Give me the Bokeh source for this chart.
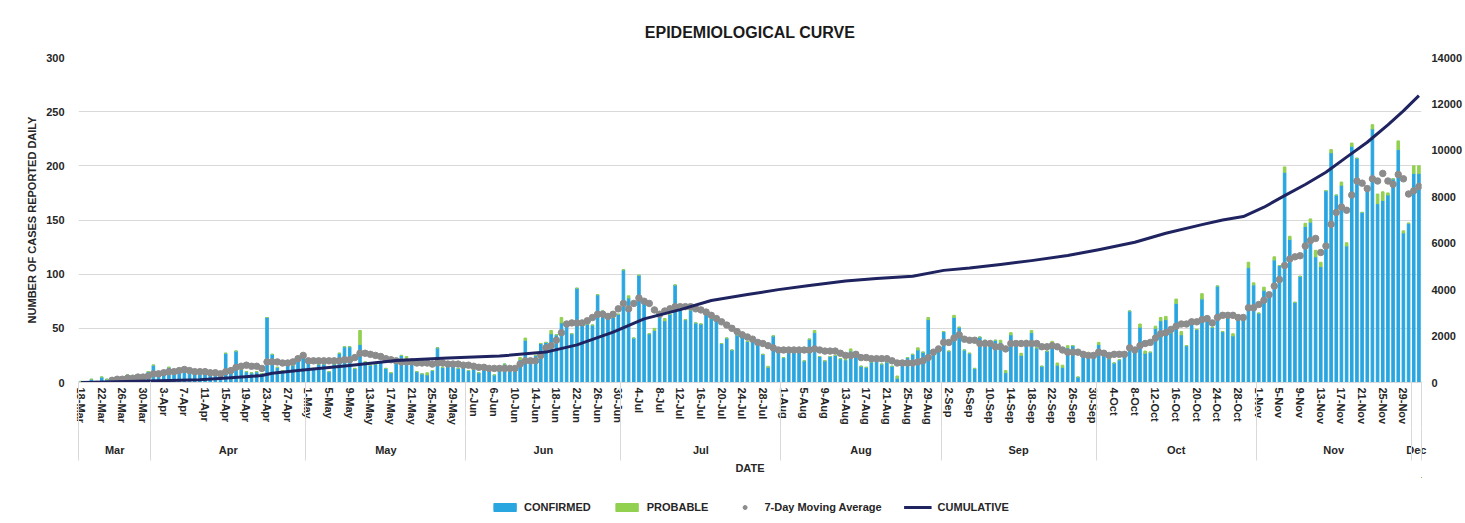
import numpy as np
from bokeh.plotting import figure
from bokeh.layouts import column
from bokeh.models import (Range1d, LinearAxis, FixedTicker, SingleIntervalTicker,
                          Legend, LegendItem, ColumnDataSource)
from bokeh.embed import file_html
from bokeh.resources import INLINE

# ---------------- data ----------------
TITLE = "EPIDEMIOLOGICAL CURVE"
TICK_LABELS = [
    "18-Mar", "22-Mar", "26-Mar", "30-Mar",
    "3-Apr", "7-Apr", "11-Apr", "15-Apr", "19-Apr", "23-Apr", "27-Apr",
    "1-May", "5-May", "9-May", "13-May", "17-May", "21-May", "25-May", "29-May",
    "2-Jun", "6-Jun", "10-Jun", "14-Jun", "18-Jun", "22-Jun", "26-Jun", "30-Jun",
    "4-Jul", "8-Jul", "12-Jul", "16-Jul", "20-Jul", "24-Jul", "28-Jul",
    "1-Aug", "5-Aug", "9-Aug", "13-Aug", "17-Aug", "21-Aug", "25-Aug", "29-Aug",
    "2-Sep", "6-Sep", "10-Sep", "14-Sep", "18-Sep", "22-Sep", "26-Sep", "30-Sep",
    "4-Oct", "8-Oct", "12-Oct", "16-Oct", "20-Oct", "24-Oct", "28-Oct",
    "1-Nov", "5-Nov", "9-Nov", "13-Nov", "17-Nov", "21-Nov", "25-Nov", "29-Nov",
]
MONTHS = ["Mar", "Apr", "May", "Jun", "Jul", "Aug", "Sep", "Oct", "Nov", "Dec"]
MONTH_DAY_COUNTS = [14, 30, 31, 30, 31, 31, 30, 31, 30, 2]
SERIES_NAMES = ["CONFIRMED", "PROBABLE", "7-Day Moving Average", "CUMULATIVE"]

# daily confirmed cases, 18-Mar .. 2-Dec
CONFIRMED = [
    1, 0, 3, 1, 5, 3, 2, 4, 3, 7, 4, 5, 6, 10, 16, 8, 9, 14, 10, 12, 11, 9, 12, 8, 10, 7, 9, 8, 27, 10, 29, 12, 10, 9, 10, 8, 60, 26,
    14, 11, 17, 16, 21, 27, 19, 13, 17, 17, 10, 17, 27, 33, 33, 13, 35, 19, 16, 17, 19, 13, 9, 18, 25, 22, 17, 10, 8, 7, 11, 32, 14, 17, 16, 13, 14, 11,
    12, 9, 12, 11, 7, 12, 17, 12, 12, 21, 39, 20, 25, 36, 37, 45, 44, 55, 53, 45, 87, 56, 54, 53, 81, 66, 61, 60, 63, 104, 78, 41, 99, 73, 45, 48, 64,
    57, 63, 90, 70, 58, 67, 55, 54, 65, 59, 59, 36, 41, 30, 44, 43, 38, 41, 36, 26, 14, 43, 32, 23, 31, 28, 28, 20, 40, 46, 24, 20, 24, 25, 22, 21, 29, 26,
    15, 14, 19, 23, 17, 19, 15, 4, 17, 23, 26, 30, 28, 58, 28, 31, 47, 29, 60, 51, 30, 27, 13, 42, 39, 36, 39, 37, 9, 44, 36, 25, 37, 46, 32, 15, 29, 36,
    16, 14, 32, 34, 5, 28, 25, 25, 35, 28, 22, 18, 21, 26, 66, 30, 51, 27, 28, 50, 57, 58, 46, 73, 44, 34, 57, 49, 77, 58, 51, 89, 47, 60, 43, 60, 62, 106,
    90, 64, 85, 83, 113, 108, 194, 132, 74, 98, 144, 148, 116, 107, 177, 212, 173, 182, 126, 218, 207, 157, 180, 234, 165, 168, 173, 188, 215, 138, 147, 193, 193,
]
# daily probable cases (stacked on top of confirmed)
PROBABLE = [
    0, 0, 0, 0, 0, 0, 0, 0, 0, 0, 0, 0, 0, 0, 0, 0, 0, 0, 0, 0, 0, 0, 0, 0, 0, 0, 0, 0, 0, 0, 0, 0, 0, 0, 0, 0, 0, 0,
    0, 0, 0, 0, 0, 0, 0, 0, 0, 0, 0, 0, 0, 0, 0, 0, 13, 0, 0, 0, 0, 0, 0, 2, 0, 2, 0, 0, 0, 2, 0, 0, 0, 0, 0, 0, 0, 0,
    0, 0, 0, 0, 0, 0, 0, 0, 0, 2, 2, 0, 0, 0, 0, 3, 0, 5, 0, 0, 0, 0, 0, 0, 0, 0, 0, 0, 0, 0, 2, 0, 0, 0, 0, 2, 0,
    2, 0, 0, 2, 0, 0, 0, 0, 0, 0, 0, 0, 0, 0, 0, 0, 0, 0, 0, 0, 1, 0, 0, 0, 0, 0, 0, 0, 0, 2, 0, 0, 0, 0, 0, 0, 2, 2,
    0, 0, 0, 0, 0, 0, 0, 2, 0, 0, 0, 2, 0, 2, 0, 0, 0, 0, 2, 0, 0, 0, 0, 0, 0, 0, 0, 2, 2, 2, 0, 2, 2, 2, 0, 0, 0, 2,
    2, 2, 2, 0, 0, 0, 0, 0, 2, 0, 0, 0, 0, 0, 0, 0, 3, 2, 0, 2, 3, 3, 0, 4, 3, 0, 0, 0, 5, 0, 0, 0, 0, 0, 2, 2, 0, 5,
    2, 0, 3, 0, 3, 0, 5, 3, 0, 0, 3, 3, 6, 4, 0, 3, 0, 3, 3, 3, 0, 0, 0, 4, 9, 8, 2, 0, 8, 2, 0, 7, 7,
]
# 7-day moving average (first six days have no value)
MOVING_AVG_7DAY = [
    None, None, None, None, None, None,
    2, 3, 3, 4, 4, 5, 5, 6, 8, 8, 9, 10, 10, 11, 12, 11, 10, 10, 10, 9, 9, 8, 10, 11, 14, 15, 16, 15, 15, 13, 19, 19,
    19, 18, 18, 19, 22, 25, 20, 20, 20, 20, 20, 20, 20, 21, 21, 23, 27, 27, 26, 25, 24, 22, 21, 20, 19, 19, 19, 18, 18, 18, 17, 18, 18, 17, 17, 17, 16, 16,
    15, 14, 14, 13, 13, 13, 13, 13, 13, 17, 20, 20, 20, 25, 32, 34, 39, 46, 54, 55, 55, 55, 57, 60, 63, 63, 61, 63, 68, 73, 68, 73, 78, 75, 73, 67, 63,
    66, 68, 70, 70, 70, 70, 68, 67, 65, 62, 59, 56, 53, 50, 47, 44, 42, 40, 37, 36, 34, 32, 30, 30, 30, 30, 30, 30, 30, 31, 30, 29, 29, 29, 27, 25, 25, 26,
    23, 23, 22, 22, 22, 22, 20, 18, 18, 18, 18, 19, 20, 23, 28, 31, 37, 37, 41, 44, 40, 39, 39, 36, 36, 36, 33, 33, 31, 36, 36, 36, 36, 36, 36, 33, 33, 34,
    33, 30, 28, 28, 28, 26, 25, 25, 28, 27, 25, 26, 26, 26, 32, 30, 34, 36, 37, 41, 45, 46, 49, 52, 54, 54, 56, 56, 58, 59, 55, 60, 62, 62, 62, 60, 60, 69,
    69, 72, 76, 81, 89, 95, 108, 114, 116, 117, 126, 131, 133, 120, 126, 146, 157, 162, 159, 173, 186, 184, 179, 188, 186, 193, 186, 183, 192, 188, 174, 177, 181,
]
# cumulative cases, read at these day indices (right axis)
CUM_DAYS = [0, 13, 23, 29, 35, 37, 42, 52, 61, 71, 81, 90, 96, 103, 109, 116, 122, 129, 135, 141,
            148, 154, 161, 167, 172, 178, 184, 191, 197, 204, 210, 217, 221, 225, 229, 233, 237,
            241, 245, 249, 253, 256, 259]
CUMULATIVE = [0, 60, 115, 200, 300, 400, 520, 730, 950, 1060, 1140, 1310, 1620, 2170, 2740, 3140, 3530, 3790, 4000, 4180,
              4370, 4480, 4580, 4830, 4930, 5080, 5250, 5470, 5720, 6040, 6430, 6800, 7000, 7150, 7550, 8050, 8530,
              9060, 9710, 10350, 11100, 11700, 12360]

assert len(CONFIRMED) == len(PROBABLE) == len(MOVING_AVG_7DAY) == sum(MONTH_DAY_COUNTS)

# ---------------- styling ----------------
BLUE = "#29A6E0"
GREEN = "#92D050"
GRAY = "#8C8C8C"
NAVY = "#1F2460"
TEXT = "#262626"
GRID = "#D9D9D9"
FONT = "Liberation Sans"
W = 1465

n_days = len(CONFIRMED)
day = np.arange(n_days)
src = ColumnDataSource(dict(day=day, confirmed=CONFIRMED, probable=PROBABLE))
ma_src = ColumnDataSource(dict(day=day, ma=np.array(MOVING_AVG_7DAY, dtype=float)))
cum_src = ColumnDataSource(dict(day=CUM_DAYS, cum=CUMULATIVE))

p = figure(width=W, height=477, output_backend="svg", toolbar_location=None, tools="",
           x_range=Range1d(-0.5, n_days - 0.5), y_range=Range1d(0, 300),
           x_axis_location=None, min_border_left=78, min_border_right=0,
           min_border_top=57, min_border_bottom=95)
p.extra_y_ranges = {"cum": Range1d(0, 14000)}
p.outline_line_color = None
p.background_fill_color = "white"
p.border_fill_color = "white"
p.xgrid.visible = False

p.title.text = TITLE
p.title.align = "center"
p.title.text_font = FONT
p.title.text_font_size = "16px"
p.title.text_font_style = "bold"
p.title.text_color = "#1a1a1a"
p.title.standoff = 34


def style_text(ax):
    ax.major_label_text_font = FONT
    ax.major_label_text_font_size = "11px"
    ax.major_label_text_font_style = "bold"
    ax.major_label_text_color = TEXT
    ax.axis_label_text_font = FONT
    ax.axis_label_text_font_size = "11px"
    ax.axis_label_text_font_style = "bold"
    ax.axis_label_text_color = TEXT


# left axis
yax = p.left[0]
yax.ticker = SingleIntervalTicker(interval=50, num_minor_ticks=0)
p.ygrid.ticker = yax.ticker
p.ygrid.grid_line_color = GRID
yax.axis_line_color = None
yax.major_tick_line_color = None
yax.minor_tick_line_color = None
yax.major_label_standoff = 8
yax.axis_label = "NUMBER OF CASES REPORTED DAILY"
yax.axis_label_standoff = 5
style_text(yax)

# right axis
rax = LinearAxis(y_range_name="cum", ticker=SingleIntervalTicker(interval=2000, num_minor_ticks=0))
rax.axis_line_color = None
rax.major_tick_line_color = None
rax.minor_tick_line_color = None
rax.major_label_standoff = 4
style_text(rax)
p.add_layout(rax, "right")

# bottom axes: day labels, month labels, and month separators (inward minor ticks)
edges = [float(e) for e in np.concatenate([[0], np.cumsum(MONTH_DAY_COUNTS)]) - 0.5]
centers = [(a + b) / 2 for a, b in zip(edges[:-1], edges[1:])]
tick_pos = [4 * i for i in range(len(TICK_LABELS))]

date_axis = LinearAxis(ticker=FixedTicker(ticks=tick_pos))
date_axis.major_label_overrides = {int(t): lab for t, lab in zip(tick_pos, TICK_LABELS)}
date_axis.major_label_orientation = "vertical"
date_axis.major_tick_in = 0
date_axis.major_tick_out = 0
date_axis.minor_tick_line_color = None
date_axis.axis_line_color = GRID
date_axis.major_label_standoff = 5
style_text(date_axis)
p.add_layout(date_axis, "below")

month_axis = LinearAxis(ticker=FixedTicker(ticks=centers, minor_ticks=edges))
month_axis.major_label_overrides = {c: m for c, m in zip(centers, MONTHS)}
month_axis.major_tick_in = 0
month_axis.major_tick_out = 0
month_axis.minor_tick_in = 46
month_axis.minor_tick_out = 0
month_axis.minor_tick_line_color = GRID
month_axis.axis_line_color = None
month_axis.major_label_standoff = 16
style_text(month_axis)
p.add_layout(month_axis, "below")

sep_axis = LinearAxis(ticker=FixedTicker(ticks=[], minor_ticks=edges))
sep_axis.major_tick_in = 0
sep_axis.major_tick_out = 0
sep_axis.minor_tick_in = 31
sep_axis.minor_tick_out = 2
sep_axis.minor_tick_line_color = GRID
sep_axis.axis_line_color = None
sep_axis.major_label_standoff = 0
sep_axis.axis_label = "DATE"
sep_axis.axis_label_standoff = 1
style_text(sep_axis)
p.add_layout(sep_axis, "below")

# glyphs
bar_style = dict(x="day", width=0.5, color=[BLUE, GREEN], source=src)
bars = p.vbar_stack(["confirmed", "probable"], **bar_style)
ma = p.scatter("day", "ma", source=ma_src, size=6.5, color=GRAY, marker="circle")
cum = p.line("day", "cum", source=cum_src, y_range_name="cum", line_width=3, color=NAVY, line_join="round")

# ---------------- legend strip (separate figure below the chart) ----------------
# its renderers share the chart's data, but its ranges keep them out of view;
# they exist only to provide legend icons
lp = figure(width=W, height=46, output_backend="svg", toolbar_location=None, tools="",
            x_range=Range1d(-30, -20), y_range=Range1d(-30, -20),
            x_axis_location=None, y_axis_location=None,
            min_border_left=30, min_border_right=0, min_border_top=0, min_border_bottom=9)
lp.outline_line_color = None
lp.grid.visible = False
k_bars = lp.vbar_stack(["confirmed", "probable"], **bar_style)
k_ma = lp.scatter("day", "ma", source=ma_src, size=6.5, color=GRAY, marker="circle")
k_cum = lp.line("day", "cum", source=cum_src, line_width=3, color=NAVY)

legend = Legend(items=[LegendItem(label=n, renderers=[r]) for n, r in
                       zip(SERIES_NAMES, [k_bars[0], k_bars[1], k_ma, k_cum])],
                orientation="horizontal", location="bottom_center")
legend.glyph_width = 28
legend.glyph_height = 10
legend.label_height = 14
legend.label_standoff = 6
legend.spacing = 22
legend.padding = 2
legend.margin = 0
legend.border_line_color = None
legend.background_fill_alpha = 0
legend.label_text_font = FONT
legend.label_text_font_size = "11px"
legend.label_text_font_style = "bold"
legend.label_text_color = TEXT
lp.add_layout(legend)

layout = column(p, lp, spacing=0)
open("out.html", "w").write(file_html(layout, INLINE))
